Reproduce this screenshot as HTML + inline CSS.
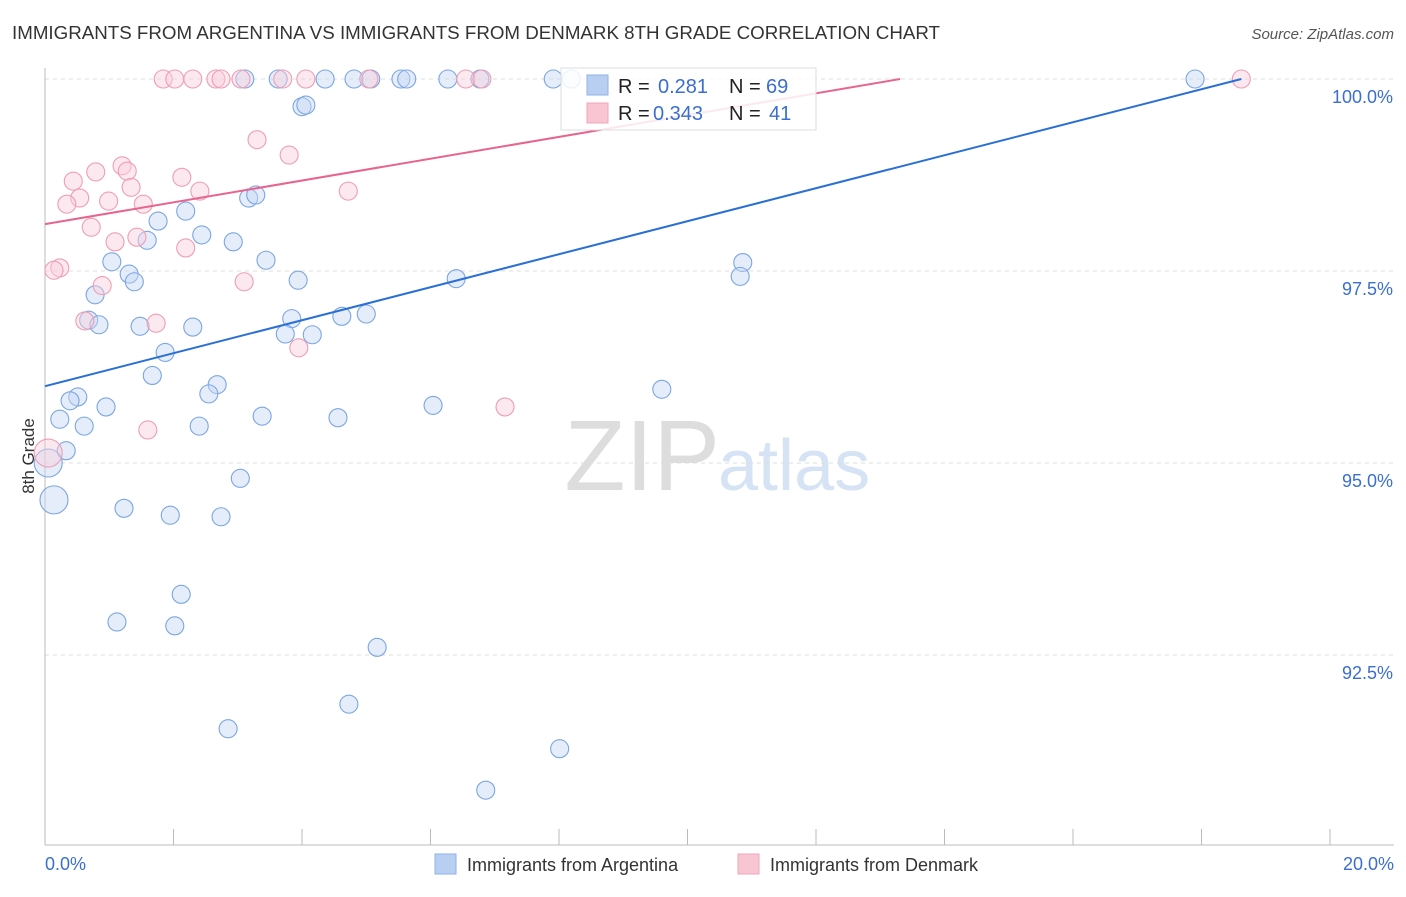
<!DOCTYPE html>
<html><head><meta charset="utf-8"><style>
body{margin:0;background:#fff;font-family:"Liberation Sans",sans-serif;}
svg text{font-family:"Liberation Sans",sans-serif;}
</style></head><body>
<svg id="chart" width="1406" height="892">
<text x="12" y="39" font-size="18" fill="#333" textLength="928" lengthAdjust="spacingAndGlyphs">IMMIGRANTS FROM ARGENTINA VS IMMIGRANTS FROM DENMARK 8TH GRADE CORRELATION CHART</text>
<text x="1394" y="39" font-size="15" fill="#555" text-anchor="end" font-style="italic">Source: ZipAtlas.com</text>
<text x="34" y="456" font-size="17" fill="#333" text-anchor="middle" transform="rotate(-90 34 456)">8th Grade</text>
<text x="720" y="490" font-size="100" fill="#ddd" text-anchor="end" font-family="Liberation Serif">ZIP</text>
<text x="718" y="490" font-size="72" fill="#d5e3f5">atlas</text>
<g id="grid"></g><g id="axes"></g><g id="pts"></g><g id="lines"></g>
<g>
<rect x="561" y="68" width="255" height="62" fill="#fff" fill-opacity="0.85" stroke="#ddd"/>
<rect x="587" y="75" width="21" height="20" fill="#b8cff2" stroke="#8fb0e6"/>
<rect x="587" y="103" width="21" height="20" fill="#f8c5d3" stroke="#f0a5ba"/>
<text x="618" y="93" font-size="20" fill="#222">R = </text><text x="658" y="93" font-size="20" fill="#3a6fd0">0.281</text>
<text x="729" y="93" font-size="20" fill="#222">N = </text><text x="766" y="93" font-size="20" fill="#3a6fd0">69</text>
<text x="618" y="120" font-size="20" fill="#222">R = </text><text x="653" y="120" font-size="20" fill="#3a6fd0">0.343</text>
<text x="729" y="120" font-size="20" fill="#222">N = </text><text x="769" y="120" font-size="20" fill="#3a6fd0">41</text>
</g>
<g>
<rect x="435" y="854" width="21" height="20" fill="#b8cff2" stroke="#8fb0e6"/>
<text x="467" y="871" font-size="18" fill="#333">Immigrants from Argentina</text>
<rect x="738" y="854" width="21" height="20" fill="#f8c5d3" stroke="#f0a5ba"/>
<text x="770" y="871" font-size="18" fill="#333">Immigrants from Denmark</text>
</g>
</svg>
<script>
const yTicks=[100,97.5,95,92.5];
const yTickLabels=["100.0%","97.5%","95.0%","92.5%"];
const xTickLabels=["0.0%","20.0%"];
const blueX=[3.11,3.63,4.36,4.81,5.07,5.54,5.63,6.27,6.77,7.91,8.19,17.90,4.00,4.06,3.17,3.28,2.19,1.76,2.44,1.59,2.93,1.04,3.44,1.31,1.39,3.94,6.40,10.86,10.82,0.78,3.84,5.00,4.62,2.30,4.16,0.68,0.84,1.48,3.74,1.87,1.67,2.68,2.55,0.51,0.39,0.95,6.04,9.60,0.23,0.61,2.40,3.38,4.56,0.33,0.05,0.14,3.04,1.23,1.95,2.74,2.12,1.12,2.02,5.17,4.73,2.85,8.01,6.86];
const blueY=[100,100,100,100,100,100,100,100,100,100,100,100,99.64,99.66,98.45,98.49,98.28,98.15,97.97,97.90,97.88,97.62,97.64,97.46,97.36,97.38,97.40,97.61,97.43,97.19,96.88,96.94,96.91,96.77,96.67,96.86,96.80,96.78,96.68,96.44,96.14,96.02,95.90,95.86,95.81,95.73,95.75,95.96,95.57,95.48,95.48,95.61,95.59,95.16,95.0,94.52,94.80,94.41,94.32,94.30,93.29,92.93,92.88,92.60,91.86,91.54,91.28,90.74];
const pinkX=[1.84,2.02,2.30,2.66,2.74,3.05,3.70,4.06,5.04,6.55,6.80,18.62,3.30,3.80,1.20,0.79,1.28,0.44,2.13,1.34,0.54,0.34,2.41,4.72,0.99,1.53,0.72,1.09,1.43,2.19,0.23,0.14,3.10,0.89,0.62,1.73,3.95,7.16,1.60,0.05];
const pinkY=[100,100,100,100,100,100,100,100,100,100,100,100,99.21,99.01,98.87,98.79,98.80,98.67,98.72,98.59,98.45,98.37,98.54,98.54,98.41,98.37,98.07,97.88,97.94,97.80,97.54,97.51,97.36,97.31,96.85,96.82,96.50,95.73,95.43,95.13];
const blueBigIdx=[54,55], pinkBigIdx=[39];
const blueTrend=[[0,96.0],[18.62,100]], pinkTrend=[[0,98.11],[13.31,100]];
const X=v=>45+v/20*1285, Y=v=>79+(100-v)*76.8;
const ns="http://www.w3.org/2000/svg";
function mk(p,t,a){const e=document.createElementNS(ns,t);for(const k in a)e.setAttribute(k,a[k]);document.getElementById(p).appendChild(e);return e;}
yTicks.forEach((t,i)=>{
 const g=mk('grid','line',{x1:45,x2:1394,y1:Y(t),y2:Y(t),stroke:'#ddd','stroke-dasharray':'4,4'});
 
 
 const tx=mk('axes','text',{x:1393,y:Y(t)+24,'font-size':18,fill:'#3a6fd0','text-anchor':'end'});tx.textContent=yTickLabels[i];
 
 
});
const ax=mk('axes','line',{x1:45,x2:45,y1:68,y2:845,stroke:'#bbb'});


const bx=mk('axes','line',{x1:45,x2:1394,y1:845,y2:845,stroke:'#bbb'});


for(let i=0;i<=10;i++){const t=mk('axes','line',{x1:X(i*2),x2:X(i*2),y1:829,y2:845,stroke:'#bbb'});
 
 }
[[0,'start',45],[20,'end',1394]].forEach((d,i)=>{const t=mk('axes','text',{x:d[2],y:870,'font-size':18,fill:'#3a6fd0','text-anchor':d[1]});t.textContent=xTickLabels[i];
 
 });
function pts(xs,ys,bigIdx,fill,stroke,name){xs.forEach((x,i)=>{const r=bigIdx.includes(i)?14:9;
 const c=mk('pts','circle',{cx:X(x),cy:Y(ys[i]),r:r,fill:fill,'fill-opacity':0.45,stroke:stroke,'stroke-width':1.1});
 
 });}
pts(blueX,blueY,blueBigIdx,'#c5d8f5','#7aa6e3','point-argentina');
pts(pinkX,pinkY,pinkBigIdx,'#f9cfdb','#ef9db4','point-denmark');
const bl=mk('lines','line',{x1:X(blueTrend[0][0]),y1:Y(blueTrend[0][1]),x2:X(blueTrend[1][0]),y2:Y(blueTrend[1][1]),stroke:'#2a6fd6','stroke-width':2});


const pl=mk('lines','line',{x1:X(pinkTrend[0][0]),y1:Y(pinkTrend[0][1]),x2:X(pinkTrend[1][0]),y2:Y(pinkTrend[1][1]),stroke:'#e8648e','stroke-width':2});


</script>
</body></html>
